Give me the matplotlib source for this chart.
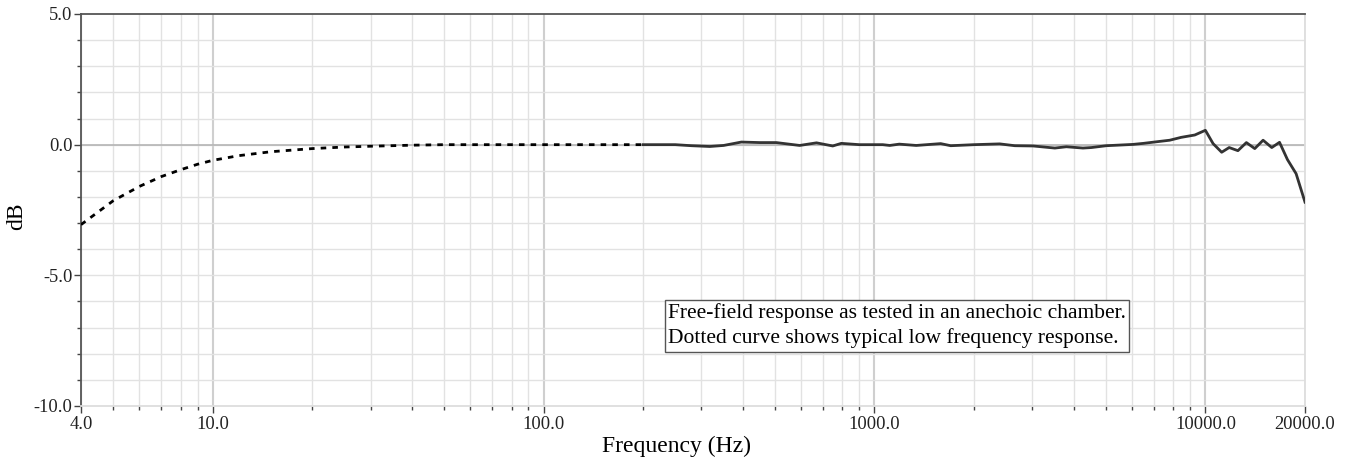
#!/usr/bin/env python
'''
Free-field frequency response plot (dB vs. frequency, log axis).
'''

import numpy as np
import matplotlib
matplotlib.use('Agg')
import matplotlib.pyplot as plt
from matplotlib.ticker import FixedLocator, FixedFormatter, NullFormatter

# Dotted curve: typical low frequency response
lf_freq = [4, 5, 6, 7, 8, 9, 10, 12, 15, 20, 25, 30, 40, 50, 70, 100, 150, 200]
lf_db = [-3.06, -2.15, -1.6, -1.22, -0.96, -0.75, -0.6, -0.42, -0.27, -0.15,
         -0.09, -0.06, -0.02, 0.0, 0.0, 0.0, 0.0, 0.0]

# Solid curve: measured free-field response
ff_freq = [200, 250, 280, 318, 350, 396, 450, 505, 594, 668, 748, 794, 900,
           1059, 1112, 1188, 1337, 1585, 1700, 2000, 2390, 2655, 3015, 3508,
           3800, 4266, 4525, 5020, 6040, 6500, 7110, 7800, 8450, 9290, 10000,
           10550, 11200, 11800, 12540, 13300, 14100, 14940, 15870, 16750,
           17700, 18800, 20000]
ff_db = [0.0, 0.0, -0.04, -0.07, -0.03, 0.1, 0.08, 0.08, -0.03, 0.07, -0.05,
         0.05, 0.0, 0.0, -0.03, 0.02, -0.03, 0.04, -0.04, 0.0, 0.03, -0.04,
         -0.05, -0.13, -0.08, -0.13, -0.11, -0.04, 0.01, 0.05, 0.11, 0.17,
         0.28, 0.37, 0.55, 0.04, -0.29, -0.11, -0.23, 0.08, -0.15, 0.17,
         -0.11, 0.09, -0.57, -1.11, -2.2]

xtick_vals = [4, 10, 100, 1000, 10000, 20000]
xtick_labels = ['4.0', '10.0', '100.0', '1000.0', '10000.0', '20000.0']
ytick_vals = [-10, -5, 0, 5]
ytick_labels = ['-10.0', '-5.0', '0.0', '5.0']

plt.rcParams['font.family'] = ['Liberation Serif', 'DejaVu Serif']

fig = plt.figure(figsize=(13.45, 4.62), dpi=100)
ax = fig.add_axes([81 / 1345, 1 - 406 / 462, (1305 - 81) / 1345, (406 - 14) / 462])

ax.set_xscale('log')
ax.set_xlim(4, 20000)
ax.set_ylim(-10, 5)

# grid lines
minor_x = [m * 10 ** e for e in range(0, 5) for m in range(2, 10)
           if 4 <= m * 10 ** e <= 20000]
for xv in minor_x:
    ax.axvline(xv, color='#e2e2e2', lw=1, zorder=0)
for xv in [10, 100, 1000, 10000]:
    ax.axvline(xv, color='#cfcfcf', lw=1.5, zorder=0)
for yv in range(-9, 5):
    ax.axhline(yv, color='#e2e2e2', lw=1, zorder=0)
ax.axhline(0, color='#b5b5b5', lw=1.2, zorder=0)

ax.plot(lf_freq, lf_db, color='black', lw=2, linestyle=(0, (2, 2.2)), zorder=3)
ax.plot(ff_freq, ff_db, color='#333333', lw=2, zorder=4)

ax.xaxis.set_major_locator(FixedLocator(xtick_vals))
ax.xaxis.set_major_formatter(FixedFormatter(xtick_labels))
ax.xaxis.set_minor_locator(FixedLocator(minor_x))
ax.xaxis.set_minor_formatter(NullFormatter())
ax.yaxis.set_major_locator(FixedLocator(ytick_vals))
ax.yaxis.set_major_formatter(FixedFormatter(ytick_labels))
ax.yaxis.set_minor_locator(FixedLocator(list(range(-9, 5))))

ax.tick_params(axis='both', which='both', direction='out', color='#444444',
               labelcolor='#222222', labelsize=13.3)
ax.tick_params(axis='both', which='major', length=5, width=1)
ax.tick_params(axis='both', which='minor', length=3, width=1)
ax.tick_params(axis='x', pad=2)
ax.tick_params(axis='y', pad=1)

ax.spines['left'].set_color('#555555')
ax.spines['top'].set_color('#555555')
ax.spines['right'].set_color('#dddddd')
ax.spines['bottom'].set_color('#dddddd')
for s in ax.spines.values():
    s.set_linewidth(1.3)

ax.set_xlabel('Frequency (Hz)', fontsize=17)
ax.set_ylabel('dB', fontsize=17)
ax.xaxis.set_label_coords(0.4865, -0.077)
ax.yaxis.set_label_coords(-0.0441, 0.485)

ax.text(0.4796, 0.262,
        'Free-field response as tested in an anechoic chamber.\n'
        'Dotted curve shows typical low frequency response.',
        transform=ax.transAxes, fontsize=15.5, color='black',
        va='top', ha='left', linespacing=1.35, zorder=5,
        bbox=dict(boxstyle='square,pad=0.15', facecolor='white',
                  edgecolor='#555555', linewidth=1))

plt.savefig('out.png', dpi=100)
